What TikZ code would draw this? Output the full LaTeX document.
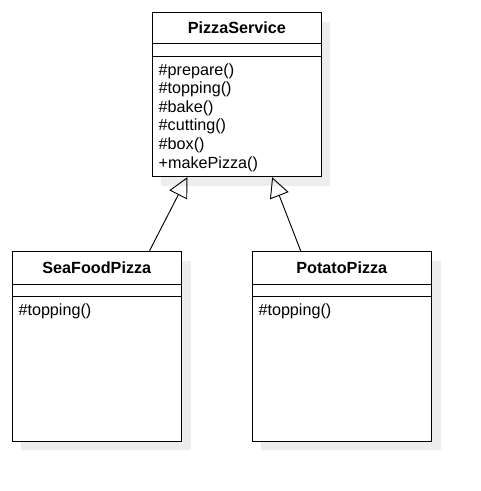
\documentclass[tikz,border=0pt]{standalone}
\usepackage{fontspec}
\setmainfont{Liberation Sans}
\usetikzlibrary{positioning,arrows.meta,shadows,calc}

\begin{document}
\begin{tikzpicture}[x=0.03cm, y=-0.03cm,
  classbox/.style={draw, line width=0.8pt, fill=white, inner sep=0pt,
    drop shadow={shadow xshift=0.27cm, shadow yshift=-0.27cm, fill=black!7, opacity=1}},
  classname/.style={inner sep=0pt, font=\fontsize{13.8}{16}\selectfont\bfseries},
  member/.style={anchor=base west, inner sep=0pt, font=\fontsize{13.8}{16}\selectfont},
  inherits/.style={-{Triangle[open, length=17pt, width=17pt]}, line width=0.8pt}]
\useasboundingbox (0,0) rectangle (481,491);

% classes
\node[classbox, minimum width=5.07cm, minimum height=4.92cm] (service) at (236.8,94.7) {};
\node[classbox, minimum width=5.085cm, minimum height=5.68cm] (seafood) at (96.8,346.4) {};
\node[classbox, minimum width=5.385cm, minimum height=5.68cm] (potato) at (341.8,346.4) {};

\node[classname] (service-name) at (236.8,28) {PizzaService};
\node[classname] (seafood-name) at (96.8,268) {SeaFoodPizza};
\node[classname] (potato-name) at (341.8,268) {PotatoPizza};

% compartments
\draw[line width=0.8pt] (service.west |- 0,43.3) -- (service.east |- 0,43.3);
\draw[line width=0.8pt] (service.west |- 0,56) -- (service.east |- 0,56);
\draw[line width=0.8pt] (seafood.west |- 0,284) -- (seafood.east |- 0,284);
\draw[line width=0.8pt] (seafood.west |- 0,296.7) -- (seafood.east |- 0,296.7);
\draw[line width=0.8pt] (potato.west |- 0,284) -- (potato.east |- 0,284);
\draw[line width=0.8pt] (potato.west |- 0,296.7) -- (potato.east |- 0,296.7);

% operations
\foreach \m [count=\i] in {\#prepare(), \#topping(), \#bake(), \#cutting(), \#box(), +makePizza()}
  \node[member] (service-m\i) at (158.5,56.4+18.6*\i) {\m};
\node[member] (seafood-m1) at (18.3,315.7) {\#topping()};
\node[member] (potato-m1) at (258.3,315.7) {\#topping()};

% generalization
\draw[inherits] ($(seafood.north west)!0.808!(seafood.north east)$) -- ($(service.south west)!0.209!(service.south east)$);
\draw[inherits] ($(potato.north west)!0.273!(potato.north east)$) -- ($(service.south west)!0.708!(service.south east)$);

\end{tikzpicture}
\end{document}
